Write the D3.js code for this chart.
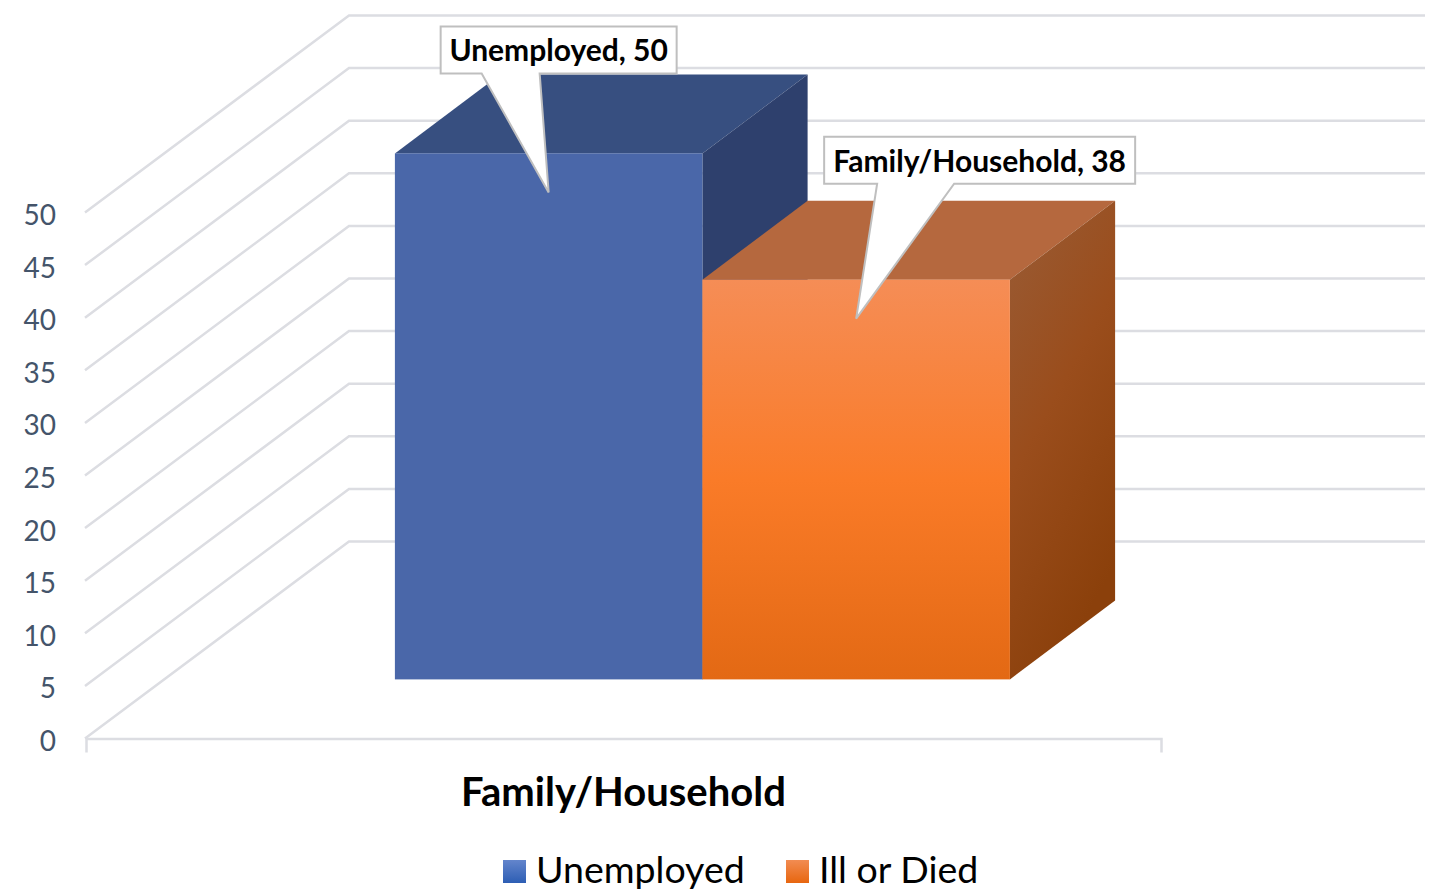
<!DOCTYPE html>
<html>
<head>
<meta charset="utf-8">
<style>
  body { margin: 0; background: #fff; }
  text { font-family: Lato, "Open Sans", sans-serif; }
</style>
<script src="https://cdnjs.cloudflare.com/ajax/libs/d3/7.8.5/d3.min.js"></script>
</head>
<body>
<div class="chart"></div>
<script>
'use strict'

const categories = ['Family/Household']
const seriesNames = ['Unemployed', 'Ill or Died']
const seriesValues = [50, 38]
const labelNames = ['Unemployed', 'Family/Household']
const yTicks = [0, 5, 10, 15, 20, 25, 30, 35, 40, 45, 50]

const width = 1435
const height = 895

// front plane of the box, the wall sits depthX/depthY behind it
const depthX = 263
const depthY = -197
const barStart = 0.3
const barDepth = 0.4

const x = d3.scaleBand().domain(categories).range([86, 1161])
const inner = d3.scaleBand().domain(seriesNames)
    .range([x(categories[0]) + 230, x(categories[0]) + 845])
const y = d3.scaleLinear().domain([0, 50]).range([738.5, 212.5])

// d is how far back along the floor, 0 = front, 1 = wall
function px(v, d) { return v + d * depthX }
function py(v, d) { return y(v) + d * depthY }
function poly(pts) { return 'M' + pts.map(p => p.join(',')).join('L') + 'Z' }

const svg = d3.select('.chart').append('svg')
    .attr('width', width)
    .attr('height', height)

const defs = svg.append('defs')

function gradient(id, stops, x2, y2) {
  const g = defs.append('linearGradient').attr('id', id)
      .attr('x1', 0).attr('y1', 0).attr('x2', x2).attr('y2', y2)
  stops.forEach(s => g.append('stop').attr('offset', s[0]).attr('stop-color', s[1]))
}
gradient('orangeFront', [[0, '#f58d56'], [0.5, '#fa7b28'], [1, '#e36914']], 0, 1)
gradient('orangeSide', [[0, '#995c36'], [0.5, '#9a4d1c'], [1, '#8b400b']], 0.4, 1)
gradient('legendBlue', [[0, '#6385cc'], [1, '#2d5eb4']], 0, 1)
gradient('legendOrange', [[0, '#f28c52'], [1, '#e7660f']], 0, 1)

const frontFill = ['#4a67a9', 'url(#orangeFront)']
const topFill = ['#374f80', '#b5683e']
const sideFill = ['#2e406d', 'url(#orangeSide)']
const legendFill = ['url(#legendBlue)', 'url(#legendOrange)']

// grid: side wall diagonal + back wall horizontal
svg.append('g').selectAll('path')
    .data(yTicks)
  .enter().append('path')
    .attr('fill', 'none')
    .attr('stroke', '#dcdde2')
    .attr('stroke-width', 2.5)
    .attr('d', d => 'M' + (x.range()[0] - 1) + ',' + y(d)
        + 'L' + px(x.range()[0], 1) + ',' + py(d, 1)
        + 'L1425,' + py(d, 1))

// category axis along the front edge
svg.append('g')
    .attr('transform', 'translate(0,' + y(0) + ')')
    .call(d3.axisBottom(x).tickValues([]).tickSize(14))
    .call(g => g.select('.domain').attr('stroke', '#dcdde2').attr('stroke-width', 2.5))

svg.append('g')
    .attr('transform', 'translate(59,3)')
    .call(d3.axisLeft(y).tickValues(yTicks).tickSize(0))
    .call(g => g.select('.domain').remove())
    .call(g => g.selectAll('text')
        .attr('dx', 0)
        .attr('font-size', 28)
        .attr('fill', '#44546a'))

// bars, left one first so the right one overlaps its side
const bars = svg.append('g').selectAll('g')
    .data(seriesValues)
  .enter().append('g')

bars.append('path')
    .attr('fill', (d, i) => topFill[i])
    .attr('d', (d, i) => {
      const x0 = inner(seriesNames[i])
      const x1 = x0 + inner.bandwidth()
      return poly([
        [px(x0, barStart), py(d, barStart)],
        [px(x1, barStart), py(d, barStart)],
        [px(x1, barStart + barDepth), py(d, barStart + barDepth)],
        [px(x0, barStart + barDepth), py(d, barStart + barDepth)]
      ])
    })

bars.append('path')
    .attr('fill', (d, i) => sideFill[i])
    .attr('d', (d, i) => {
      const x1 = inner(seriesNames[i]) + inner.bandwidth()
      return poly([
        [px(x1, barStart), py(d, barStart)],
        [px(x1, barStart + barDepth), py(d, barStart + barDepth)],
        [px(x1, barStart + barDepth), py(0, barStart + barDepth)],
        [px(x1, barStart), py(0, barStart)]
      ])
    })

bars.append('rect')
    .attr('fill', (d, i) => frontFill[i])
    .attr('x', (d, i) => px(inner(seriesNames[i]), barStart))
    .attr('y', d => py(d, barStart))
    .attr('width', inner.bandwidth())
    .attr('height', d => py(0, barStart) - py(d, barStart))

// callouts: box offset from the tip, which sits at the middle of the bar front
const callouts = [
  { left: -108, right: 128, top: -166, bottom: -119, baseA: -67, baseB: -9 },
  { left: -32, right: 279, top: -182, bottom: -135, baseA: 21, baseB: 98 }
]

const labels = svg.append('g').selectAll('g')
    .data(seriesValues)
  .enter().append('g')
    .attr('transform', (d, i) => 'translate('
        + (px(inner(seriesNames[i]), barStart) + inner.bandwidth() / 2) + ','
        + (py(d, barStart) + 39) + ')')

labels.append('path')
    .attr('fill', '#fff')
    .attr('stroke', '#bfbfbf')
    .attr('stroke-width', 2)
    .attr('d', (d, i) => {
      const c = callouts[i]
      return poly([
        [c.left, c.top], [c.right, c.top], [c.right, c.bottom],
        [c.baseB, c.bottom], [0, 0], [c.baseA, c.bottom], [c.left, c.bottom]
      ])
    })

labels.append('text')
    .attr('x', (d, i) => (callouts[i].left + callouts[i].right) / 2)
    .attr('y', (d, i) => callouts[i].bottom - 12)
    .attr('text-anchor', 'middle')
    .attr('font-size', 30)
    .attr('font-weight', 700)
    .attr('fill', '#000')
    .text((d, i) => labelNames[i] + ', ' + d)

svg.append('text')
    .attr('x', x(categories[0]) + x.bandwidth() / 2)
    .attr('y', 806)
    .attr('text-anchor', 'middle')
    .attr('font-size', 40)
    .attr('font-weight', 700)
    .attr('fill', '#000')
    .text(categories[0])

const legendX = [503, 786]
const legend = svg.append('g').selectAll('g')
    .data(seriesNames)
  .enter().append('g')
    .attr('transform', (d, i) => 'translate(' + legendX[i] + ',860)')

legend.append('rect')
    .attr('width', 23)
    .attr('height', 23)
    .attr('fill', (d, i) => legendFill[i])

legend.append('text')
    .attr('x', 33)
    .attr('y', 23)
    .attr('font-size', 37.5)
    .attr('fill', '#000')
    .text(d => d)
</script>
</body>
</html>
